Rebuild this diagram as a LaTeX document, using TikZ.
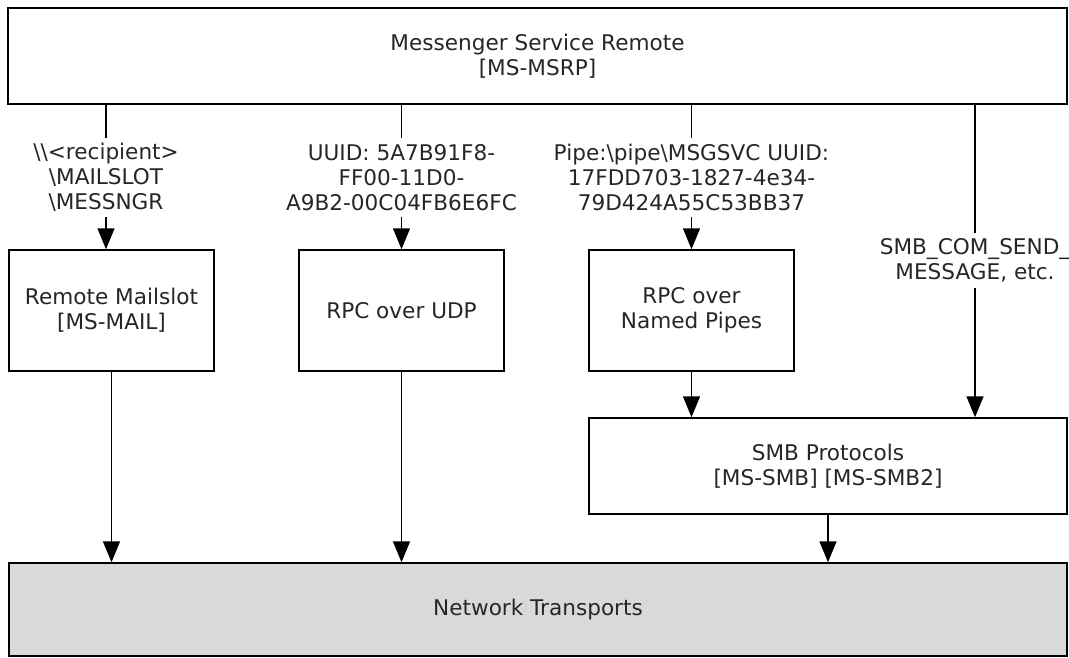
\documentclass[tikz,border=0pt]{standalone}
\usepackage{fontspec}
\setmainfont{DejaVu Sans}
\usetikzlibrary{arrows.meta}
\begin{document}
\begin{tikzpicture}[x=1pt,y=-1pt,
  txt/.style={font=\fontsize{21.6}{25}\selectfont, align=center, text=black!85},
  box/.style={txt, draw=black, line width=1.5pt, inner sep=0pt},
  smallbox/.style={box, minimum width=205pt, minimum height=121pt},
  lbl/.style={txt, inner sep=0pt},
  ln/.style={draw=black, line width=1.5pt},
  arr/.style={ln, -{Triangle[length=21pt,width=17pt]}}]
\useasboundingbox (0,0) rectangle (1069,658);

\node[box, minimum width=1059pt, minimum height=96pt] (top) at (537.5,56) {Messenger Service Remote\\{}[MS-MSRP]};

\node[smallbox] (b1) at (111.5,310.5) {Remote Mailslot\\{}[MS-MAIL]};
\node[smallbox] (b2) at (401.5,310.5) {RPC over UDP};
\node[smallbox] (b3) at (691.5,310.5) {RPC over\\Named Pipes};

\node[box, minimum width=478pt, minimum height=96pt] (smb) at (828,466) {SMB Protocols\\{}[MS-SMB] [MS-SMB2]};
\node[box, fill=black!15, minimum width=1058pt, minimum height=93pt] (net) at (538,609.5) {Network Transports};

\node[lbl, minimum height=79pt] (l1) at (106,177.5) {\textbackslash\textbackslash<recipient>\\\textbackslash MAILSLOT\\\textbackslash MESSNGR};
\node[lbl, minimum height=79pt] (l2) at (401.5,177.5) {UUID: 5A7B91F8-\\FF00-11D0-\\A9B2-00C04FB6E6FC};
\node[lbl, minimum height=79pt] (l3) at (691.5,177.5) {Pipe:\textbackslash pipe\textbackslash MSGSVC UUID:\\17FDD703-1827-4e34-\\79D424A55C53BB37};
\node[lbl, minimum height=55pt] (l4) at (975,260.5) {SMB\_COM\_SEND\_\\MESSAGE, etc.};

\draw[ln] (top.south -| l1) -- (l1.north);
\draw[arr] (l1.south) -- (l1.south |- b1.north);
\draw[ln] (top.south -| l2) -- (l2.north);
\draw[arr] (l2.south) -- (l2.south |- b2.north);
\draw[ln] (top.south -| l3) -- (l3.north);
\draw[arr] (l3.south) -- (l3.south |- b3.north);
\draw[ln] (top.south -| l4) -- (l4.north);
\draw[arr] (l4.south) -- (l4.south |- smb.north);

\draw[arr] (b1.south) -- (b1.south |- net.north);
\draw[arr] (b2.south) -- (b2.south |- net.north);
\draw[arr] (b3.south) -- (b3.south |- smb.north);
\draw[arr] (smb.south) -- (smb.south |- net.north);
\end{tikzpicture}
\end{document}
